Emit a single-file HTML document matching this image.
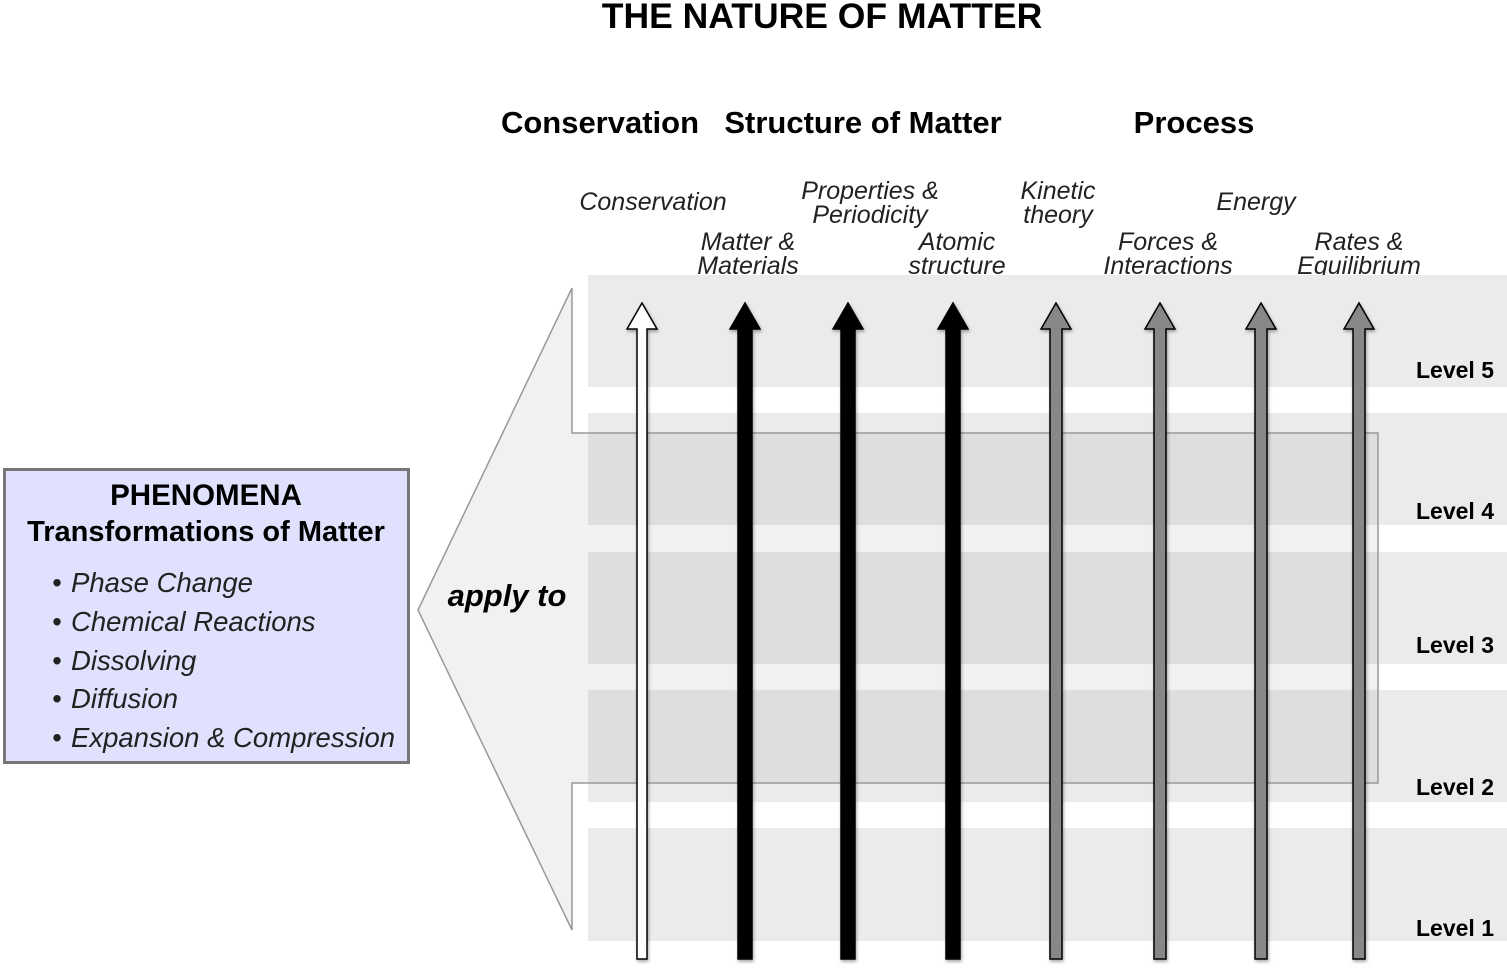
<!DOCTYPE html>
<html><head><meta charset="utf-8"><style>
body{margin:0;width:1507px;height:969px;background:#fff;overflow:hidden;font-family:"Liberation Sans",Arial,sans-serif}
</style></head><body>
<svg width="1507" height="969" viewBox="0 0 1507 969" xmlns="http://www.w3.org/2000/svg" font-family="Liberation Sans, Arial, sans-serif">
<defs>
<filter id="sh" x="-50%" y="-5%" width="200%" height="110%"><feDropShadow dx="1" dy="2" stdDeviation="1.5" flood-opacity="0.35"/></filter>
</defs>
<text x="822" y="28" text-anchor="middle" font-size="35.5" font-weight="bold">THE NATURE OF MATTER</text>
<g font-size="31" font-weight="bold" text-anchor="middle">
<text x="600" y="133">Conservation</text>
<text x="863" y="133">Structure of Matter</text>
<text x="1194" y="133">Process</text>
</g>
<g font-size="25" font-style="italic" text-anchor="middle" fill="#222">
<text x="653" y="210">Conservation</text>
<text x="870" y="199">Properties &amp;</text><text x="870" y="223">Periodicity</text>
<text x="1058" y="199">Kinetic</text><text x="1058" y="223">theory</text>
<text x="1256" y="210">Energy</text>
<text x="748" y="250">Matter &amp;</text><text x="748" y="274">Materials</text>
<text x="957" y="250">Atomic</text><text x="957" y="274">structure</text>
<text x="1168" y="250">Forces &amp;</text><text x="1168" y="274">Interactions</text>
<text x="1359" y="250">Rates &amp;</text><text x="1359" y="274">Equilibrium</text>
</g>
<g fill="#ebebeb">
<rect x="588" y="275" width="919" height="112"/>
<rect x="588" y="413" width="919" height="112"/>
<rect x="588" y="552" width="919" height="112"/>
<rect x="588" y="690" width="919" height="112"/>
<rect x="588" y="828" width="919" height="113"/>
</g>
<polygon points="572,288 572,433 1378,433 1378,783 572,783 572,930 418,610" fill="rgba(0,0,0,0.055)" stroke="#999" stroke-width="1.5"/>
<text x="507" y="606" text-anchor="middle" font-size="31" font-weight="bold" font-style="italic">apply to</text>
<g font-size="23" font-weight="bold" text-anchor="middle">
<text x="1455" y="378">Level 5</text>
<text x="1455" y="519">Level 4</text>
<text x="1455" y="653">Level 3</text>
<text x="1455" y="795">Level 2</text>
<text x="1455" y="936">Level 1</text>
</g>
<g filter="url(#sh)" stroke="#000" stroke-width="1.5">
<polygon points="637,959 647,959 647,329 657,329 642,303 627,329 637,329" fill="#fff"/>
<polygon points="738,959 752,959 752,329 760,329 745,303 730,329 738,329" fill="#000"/>
<polygon points="841,959 855,959 855,329 863,329 848,303 833,329 841,329" fill="#000"/>
<polygon points="946,959 960,959 960,329 968,329 953,303 938,329 946,329" fill="#000"/>
<polygon points="1050,959 1062,959 1062,329 1071,329 1056,303 1041,329 1050,329" fill="#888"/>
<polygon points="1154,959 1166,959 1166,329 1175,329 1160,303 1145,329 1154,329" fill="#888"/>
<polygon points="1255,959 1267,959 1267,329 1276,329 1261,303 1246,329 1255,329" fill="#888"/>
<polygon points="1353,959 1365,959 1365,329 1374,329 1359,303 1344,329 1353,329" fill="#888"/>
</g>
<rect x="4.5" y="469.5" width="404" height="293" fill="#dfe1fd" stroke="#777" stroke-width="3"/>
<text x="206" y="505" text-anchor="middle" font-size="29.5" font-weight="bold">PHENOMENA</text>
<text x="206" y="541" text-anchor="middle" font-size="29" font-weight="bold">Transformations of Matter</text>
<g font-size="27.5" font-style="italic" fill="#222">
<text x="52" y="592"><tspan>•</tspan><tspan x="71">Phase Change</tspan></text>
<text x="52" y="631"><tspan>•</tspan><tspan x="71">Chemical Reactions</tspan></text>
<text x="52" y="670"><tspan>•</tspan><tspan x="71">Dissolving</tspan></text>
<text x="52" y="708"><tspan>•</tspan><tspan x="71">Diffusion</tspan></text>
<text x="52" y="747"><tspan>•</tspan><tspan x="71">Expansion &amp; Compression</tspan></text>
</g>
</svg>
</body></html>
